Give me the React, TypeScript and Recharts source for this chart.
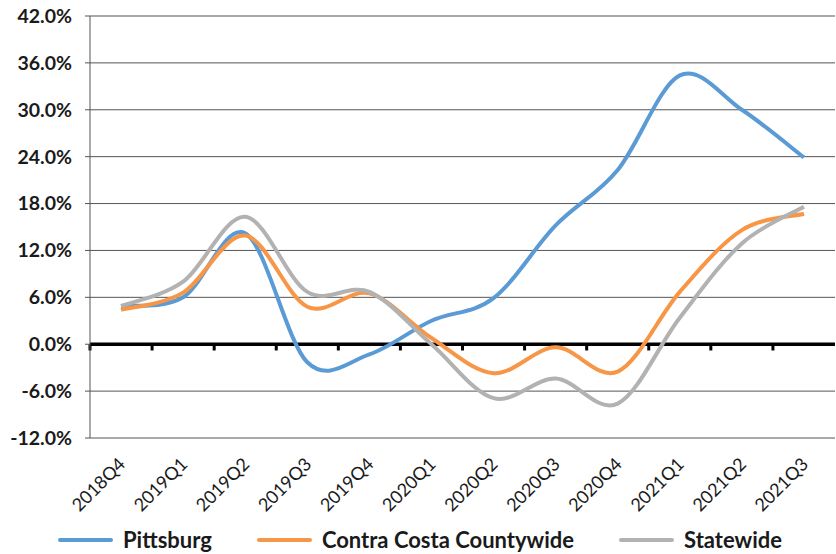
import React from 'react';
import { LineChart, Line, XAxis, YAxis, CartesianGrid, ReferenceLine, Legend } from 'recharts';

const categories = ['2018Q4', '2019Q1', '2019Q2', '2019Q3', '2019Q4', '2020Q1', '2020Q2', '2020Q3', '2020Q4', '2021Q1', '2021Q2', '2021Q3'];
const pittsburg = [4.9, 6.0, 14.2, -2.3, -1.3, 3.0, 5.9, 15.2, 22.3, 34.4, 30.0, 23.9];
const contraCosta = [4.4, 6.6, 13.9, 4.8, 6.5, 0.8, -3.7, -0.4, -3.5, 6.7, 14.6, 16.7];
const statewide = [4.9, 8.0, 16.3, 6.7, 6.7, 0.0, -6.9, -4.4, -7.6, 3.4, 12.9, 17.6];
const yTicks = [-12, -6, 0, 6, 12, 18, 24, 30, 36, 42];
const seriesNames = ['Pittsburg', 'Contra Costa Countywide', 'Statewide'];
const seriesColors = ['#5B9BD5', '#F79646', '#B2B2B2'];

const data = categories.map((c, i) => ({
  pos: i + 0.5,
  category: c,
  pittsburg: pittsburg[i],
  contraCosta: contraCosta[i],
  statewide: statewide[i],
}));
const tickPositions = categories.map((_, i) => i + 0.5);
const boundaries = categories.map((_, i) => i);

// Excel-like smoothing (uniform Catmull-Rom expressed as cubic Beziers)
const excelSmooth: any = (context: any) => {
  let pts: number[][] = [];
  return {
    areaStart() {},
    areaEnd() {},
    lineStart() {
      pts = [];
    },
    lineEnd() {
      const n = pts.length;
      if (n === 0) return;
      context.moveTo(pts[0][0], pts[0][1]);
      if (n === 1) return;
      for (let i = 0; i < n - 1; i++) {
        const p0 = pts[i - 1] || pts[i];
        const p1 = pts[i];
        const p2 = pts[i + 1];
        const p3 = pts[i + 2] || pts[i + 1];
        context.bezierCurveTo(
          p1[0] + (p2[0] - p0[0]) / 6,
          p1[1] + (p2[1] - p0[1]) / 6,
          p2[0] - (p3[0] - p1[0]) / 6,
          p2[1] - (p3[1] - p1[1]) / 6,
          p2[0],
          p2[1]
        );
      }
    },
    point(x: number, y: number) {
      pts.push([+x, +y]);
    },
  };
};

const XTick = (props: any) => {
  const { x, y, payload } = props;
  return (
    <text
      transform={`translate(${x + 1},${y + 23}) rotate(-45)`}
      textAnchor="end"
      dy="0.35em"
      fontFamily="Lato"
      fontSize={18}
      fill="#1a1a1a"
    >
      {categories[Math.floor(payload.value)]}
    </text>
  );
};

const LegendContent = () => (
  <div
    style={{
      display: 'flex',
      alignItems: 'center',
      height: 26,
      lineHeight: '26px',
      paddingLeft: 58,
      fontFamily: 'Lato',
      fontWeight: 700,
      fontSize: 22,
      color: '#1a1a1a',
    }}
  >
    {seriesNames.map((name, i) => (
      <div key={name} style={{ display: 'flex', alignItems: 'center', marginRight: 45 }}>
        <span
          style={{
            display: 'inline-block',
            width: 55,
            height: 4,
            borderRadius: 2,
            background: seriesColors[i],
            marginRight: 10,
          }}
        />
        <span>{name}</span>
      </div>
    ))}
  </div>
);

export default function App() {
  return (
    <div style={{ position: 'absolute', left: 0, top: 0, background: '#fff' }}>
      <LineChart width={836} height={554} data={data} margin={{ top: 16, right: 1, bottom: 0, left: 0 }}>
        <CartesianGrid vertical={false} stroke="#555" strokeWidth={1} />
        <XAxis
          dataKey="pos"
          type="number"
          domain={[0, categories.length]}
          ticks={tickPositions}
          interval={0}
          axisLine={false}
          tickLine={false}
          tickSize={0}
          tickMargin={0}
          height={116}
          tick={<XTick />}
        />
        <YAxis
          type="number"
          domain={[-12, 42]}
          ticks={yTicks}
          interval={0}
          width={90}
          axisLine={{ stroke: '#555', strokeWidth: 1 }}
          tickLine={{ stroke: '#555', strokeWidth: 1 }}
          tickSize={5}
          tickMargin={13}
          tickFormatter={(v: number) => `${v.toFixed(1)}%`}
          tick={{ fontFamily: 'Lato', fontWeight: 700, fontSize: 19.5, fill: '#1a1a1a' }}
        />
        <ReferenceLine y={0} stroke="#000" strokeWidth={3.5} />
        {boundaries.map((b) => (
          <ReferenceLine
            key={b}
            segment={[
              { x: b, y: 0 },
              { x: b, y: -0.8 },
            ]}
            stroke="#000"
            strokeWidth={3}
          />
        ))}
        <Line
          dataKey="pittsburg"
          name={seriesNames[0]}
          stroke={seriesColors[0]}
          strokeWidth={4}
          type={excelSmooth}
          dot={false}
          activeDot={false}
          isAnimationActive={false}
        />
        <Line
          dataKey="contraCosta"
          name={seriesNames[1]}
          stroke={seriesColors[1]}
          strokeWidth={4}
          type={excelSmooth}
          dot={false}
          activeDot={false}
          isAnimationActive={false}
        />
        <Line
          dataKey="statewide"
          name={seriesNames[2]}
          stroke={seriesColors[2]}
          strokeWidth={4}
          type={excelSmooth}
          dot={false}
          activeDot={false}
          isAnimationActive={false}
        />
        <Legend
          layout="horizontal"
          verticalAlign="middle"
          align="center"
          content={<LegendContent />}
          wrapperStyle={{ position: 'absolute', top: 527, left: 0, width: 836, height: 26 }}
        />
      </LineChart>
    </div>
  );
}
